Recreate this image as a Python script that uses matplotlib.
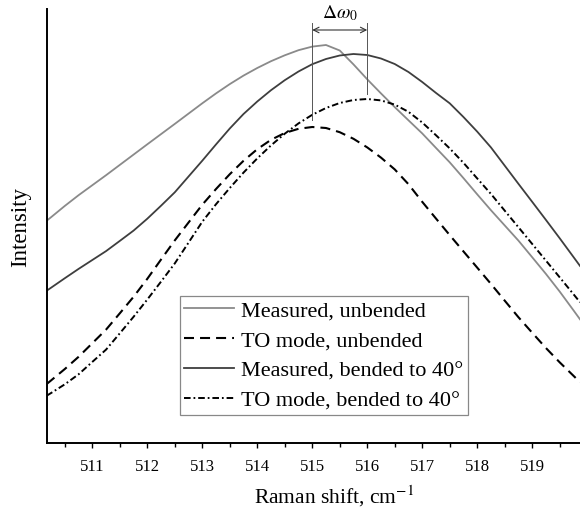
import matplotlib
matplotlib.use('Agg')
import matplotlib.pyplot as plt
from matplotlib.ticker import MultipleLocator
import numpy as np

plt.rcParams['font.family'] = ['Liberation Serif', 'DejaVu Serif']
plt.rcParams['mathtext.fontset'] = 'stix'

# Raman shift, cm-1
shift = [510.17, 510.25, 510.5, 510.75, 511.0, 511.25, 511.5, 511.75,
         512.0, 512.25, 512.5, 512.75, 513.0, 513.25, 513.5, 513.75,
         514.0, 514.25, 514.5, 514.75, 515.0, 515.25, 515.5, 515.75,
         516.0, 516.25, 516.5, 516.75, 517.0, 517.25, 517.5, 517.75,
         518.0, 518.25, 518.5, 518.75, 519.0, 519.25, 519.5, 519.75, 519.87]

# intensity, a.u.
meas_unbent = [222.3, 225.8, 237.1, 247.8, 257.8, 267.8, 278.1, 288.4,
               298.7, 308.9, 319.1, 329.4, 339.7, 349.6, 358.9, 367.4,
               375.0, 381.8, 387.7, 392.8, 396.4, 398.0, 392.5, 378.6,
               363.7, 349.6, 335.9, 322.7, 309.6, 295.1, 280.7, 264.9,
               248.7, 232.8, 217.6, 202.4, 185.8, 169.1, 151.5, 132.8, 123.7]
to_unbent = [59.0, 62.6, 74.0, 86.2, 99.8, 113.4, 129.7, 146.2,
             164.2, 183.5, 202.6, 220.5, 238.3, 254.0, 268.8, 282.2,
             293.8, 303.2, 310.0, 314.2, 316.0, 315.0, 310.8, 304.2,
             295.6, 285.4, 273.6, 258.8, 241.2, 224.5, 207.9, 191.6,
             175.4, 159.1, 142.4, 125.8, 110.3, 95.0, 80.7, 67.3, 60.8]
meas_bent = [152.3, 155.3, 164.8, 174.1, 183.0, 191.9, 202.1, 212.4,
             224.3, 237.3, 250.7, 266.5, 282.3, 298.6, 314.5, 329.0,
             341.5, 352.8, 362.8, 371.5, 378.8, 384.0, 387.5, 389.0,
             388.0, 384.5, 379.0, 371.0, 361.0, 350.1, 339.7, 326.0,
             311.4, 295.6, 277.4, 259.2, 241.2, 223.1, 204.8, 186.1, 177.1]
to_bent = [47.3, 50.0, 58.7, 68.7, 81.1, 93.4, 109.7, 126.2,
           143.5, 161.4, 179.6, 200.4, 221.3, 238.8, 255.0, 270.4,
           284.6, 297.6, 309.3, 319.6, 328.2, 335.0, 340.0, 343.0,
           344.0, 342.6, 338.4, 331.2, 320.5, 307.8, 294.6, 280.2,
           264.6, 249.1, 232.4, 215.8, 199.1, 182.4, 165.7, 148.9, 140.8]

fig = plt.figure(figsize=(5.8, 5.1), dpi=100)
ax = fig.add_axes([0.0805, 0.1294, 0.9195, 0.851])

ax.plot(shift, meas_unbent, color='#8a8a8a', lw=1.3, label='Measured, unbended')
ax.plot(shift, to_unbent, color='black', lw=1.5, dashes=(4.8, 2.9),
        label='TO mode, unbended')
ax.plot(shift, meas_bent, color='#3e3e3e', lw=1.3,
        label='Measured, bended to 40°')
ax.plot(shift, to_bent, color='black', lw=1.4, dashes=(3.4, 1.5, 0.9, 1.5),
        label='TO mode, bended to 40°')

ax.set_xlim(510.17, 519.87)
ax.set_ylim(0, 434)

# peak shift marker
x0 = shift[int(np.argmax(to_unbent))]
x1 = shift[int(np.argmax(to_bent))]
top = 420
ax.plot([x0, x0], [max(to_unbent) + 7, top], color='#555555', lw=0.7)
ax.plot([x1, x1], [max(to_bent) + 5, top], color='#555555', lw=0.7)
ax.annotate('', xy=(x0, 413), xytext=(x1, 413),
            arrowprops=dict(arrowstyle='<->', color='#333333', lw=0.8,
                            shrinkA=0, shrinkB=0))
ax.text((x0 + x1) / 2, 421, r'$\Delta\omega_0$', ha='center', va='bottom',
        fontsize=14)

ax.spines['top'].set_visible(False)
ax.spines['right'].set_visible(False)
ax.spines['left'].set_linewidth(1.4)
ax.spines['bottom'].set_linewidth(1.4)
ax.set_yticks([])
ax.xaxis.set_major_locator(MultipleLocator(1))
ax.xaxis.set_minor_locator(MultipleLocator(0.5))
ax.tick_params(axis='x', which='major', direction='out', length=3.8,
               width=1.0, labelsize=12, pad=7)
ax.tick_params(axis='x', which='minor', direction='out', length=2.6, width=1.0)

ax.set_xlabel('Raman shift, cm$^{-1}$', fontsize=15.5)
ax.xaxis.set_label_coords(0.539, -0.092)
ax.set_ylabel('Intensity', fontsize=16.5)
ax.yaxis.set_label_coords(-0.029, 0.5)

leg = ax.legend(loc='upper left', bbox_to_anchor=(0.25, 0.3387),
                borderaxespad=0, fontsize=16.0, handlelength=2.25,
                handletextpad=0.3, labelspacing=0.42, borderpad=0.2,
                fancybox=False, framealpha=1)
leg.get_frame().set_edgecolor('#888888')
leg.get_frame().set_linewidth(0.9)

fig.savefig('out.png', dpi=100)
